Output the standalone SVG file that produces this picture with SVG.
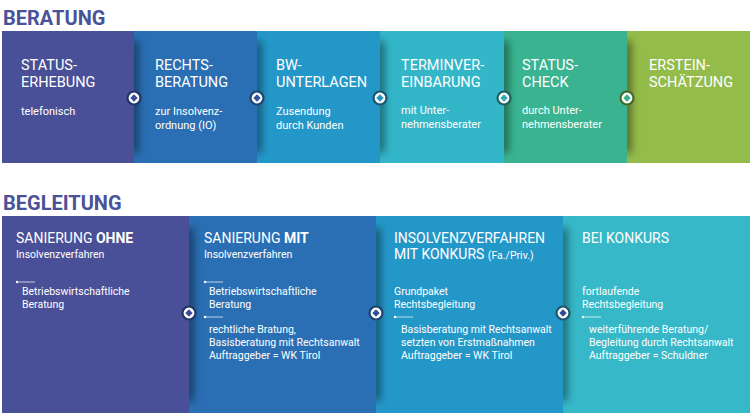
<svg xmlns="http://www.w3.org/2000/svg" width="750" height="413" viewBox="0 0 750 413">
<defs>
<filter id="sh" x="-2" y="-0.5" width="5" height="2"><feGaussianBlur stdDeviation="4"/></filter>
<style>
text{font-family:Roboto,"Liberation Sans",sans-serif;fill:#fff}
.h{font-size:20px;font-weight:700;fill:#4a5298}
.t{font-size:14.5px}
.t2{font-size:14px}
.s{font-size:11px}
.b{font-size:10.5px}
.bd{font-weight:700}
.shd{fill:#000;opacity:.5;filter:url(#sh)}
.bl{stroke:#fff;stroke-opacity:.7;stroke-width:1}
.dot{fill:#fff}
.ring{fill:#fff;stroke-width:2.2}
</style>
</defs>
<rect width="750" height="413" fill="#fff"/>
<text class="h" x="3" y="24.5">BERATUNG</text>
<text class="h" x="3" y="210">BEGLEITUNG</text>

<!-- top row, drawn right to left -->
<g id="ersteinschaetzung">
<rect x="627" y="31" width="123" height="132" fill="#94bc4a"/>
<text class="t" x="649" y="70">ERSTEIN-</text>
<text class="t" x="649" y="87">SCHÄTZUNG</text>
</g>
<g id="statuscheck">
<rect class="shd" x="623" y="41" width="8" height="112"/>
<rect x="504" y="31" width="123" height="132" fill="#3ab490"/>
<text class="t" x="522" y="70">STATUS-</text>
<text class="t" x="522" y="87">CHECK</text>
<text class="s" x="522" y="114">durch Unter-</text>
<text class="s" x="522" y="128">nehmensberater</text>
</g>
<g id="terminvereinbarung">
<rect class="shd" x="500" y="41" width="8" height="112"/>
<rect x="380" y="31" width="124" height="132" fill="#33b6c8"/>
<text class="t" x="401" y="70">TERMINVER-</text>
<text class="t" x="401" y="87">EINBARUNG</text>
<text class="s" x="401" y="114">mit Unter-</text>
<text class="s" x="401" y="128">nehmensberater</text>
</g>
<g id="bwunterlagen">
<rect class="shd" x="376" y="41" width="8" height="112"/>
<rect x="257" y="31" width="123" height="132" fill="#2497c9"/>
<text class="t" x="276" y="70">BW-</text>
<text class="t" x="276" y="87">UNTERLAGEN</text>
<text class="s" x="276" y="115">Zusendung</text>
<text class="s" x="276" y="129">durch Kunden</text>
</g>
<g id="rechtsberatung">
<rect class="shd" x="253" y="41" width="8" height="112"/>
<rect x="134" y="31" width="123" height="132" fill="#2a6fb3"/>
<text class="t" x="155" y="70">RECHTS-</text>
<text class="t" x="155" y="87">BERATUNG</text>
<text class="s" x="155" y="115">zur Insolvenz-</text>
<text class="s" x="155" y="129">ordnung (IO)</text>
</g>
<g id="statuserhebung">
<rect class="shd" x="130" y="41" width="8" height="112"/>
<rect x="2" y="31" width="132" height="132" fill="#4a5097"/>
<text class="t" x="21" y="70">STATUS-</text>
<text class="t" x="21" y="87">ERHEBUNG</text>
<text class="s" x="21" y="115">telefonisch</text>
</g>

<!-- bottom row, drawn right to left -->
<g id="beikonkurs">
<rect x="563" y="216" width="187" height="197" fill="#36b8c8"/>
<text class="t2" x="582" y="243">BEI KONKURS</text>
<text class="b" x="582" y="295">fortlaufende</text>
<text class="b" x="582" y="308">Rechtsbegleitung</text>
<line class="bl" x1="582" y1="317" x2="601" y2="317"/>
<circle class="dot" cx="583" cy="317" r="1.2"/>
<text class="b" x="589" y="333">weiterführende Beratung/</text>
<text class="b" x="589" y="346">Begleitung durch Rechtsanwalt</text>
<text class="b" x="589" y="359">Auftraggeber = Schuldner</text>
</g>
<g id="insolvenzverfahren">
<rect class="shd" x="559" y="228" width="8" height="173"/>
<rect x="376" y="216" width="187" height="197" fill="#2497c9"/>
<text class="t2" x="394" y="242.5">INSOLVENZVERFAHREN</text>
<text class="t2" x="394" y="259">MIT KONKURS <tspan font-size="10.5px">(Fa./Priv.)</tspan></text>
<text class="b" x="394" y="295">Grundpaket</text>
<text class="b" x="394" y="308">Rechtsbegleitung</text>
<line class="bl" x1="394" y1="317" x2="413" y2="317"/>
<circle class="dot" cx="395" cy="317" r="1.2"/>
<text class="b" x="401" y="333">Basisberatung mit Rechtsanwalt</text>
<text class="b" x="401" y="346">setzten von Erstmaßnahmen</text>
<text class="b" x="401" y="359">Auftraggeber = WK Tirol</text>
</g>
<g id="sanierungmit">
<rect class="shd" x="372" y="228" width="8" height="173"/>
<rect x="189" y="216" width="187" height="197" fill="#2a6fb3"/>
<text class="t2" x="204" y="243">SANIERUNG <tspan class="bd">MIT</tspan></text>
<text class="b" x="204" y="258">Insolvenzverfahren</text>
<line class="bl" x1="204" y1="282" x2="223" y2="282"/>
<circle class="dot" cx="205" cy="282" r="1.2"/>
<text class="b" x="209" y="295">Betriebswirtschaftliche</text>
<text class="b" x="209" y="308">Beratung</text>
<line class="bl" x1="204" y1="317" x2="223" y2="317"/>
<circle class="dot" cx="205" cy="317" r="1.2"/>
<text class="b" x="209" y="333">rechtliche Bratung,</text>
<text class="b" x="209" y="346">Basisberatung mit Rechtsanwalt</text>
<text class="b" x="209" y="359">Auftraggeber = WK Tirol</text>
</g>
<g id="sanierungohne">
<rect class="shd" x="185" y="228" width="8" height="173"/>
<rect x="2" y="216" width="187" height="197" fill="#4a5097"/>
<text class="t2" x="16" y="243">SANIERUNG <tspan class="bd">OHNE</tspan></text>
<text class="b" x="16" y="258">Insolvenzverfahren</text>
<line class="bl" x1="16" y1="282" x2="35" y2="282"/>
<circle class="dot" cx="17" cy="282" r="1.2"/>
<text class="b" x="22" y="295">Betriebswirtschaftliche</text>
<text class="b" x="22" y="308">Beratung</text>
</g>

<g id="connectors">
<circle class="ring" cx="134" cy="98" r="6.5" stroke="#1f3566"/>
<rect x="-2.6" y="-2.6" width="5.2" height="5.2" fill="#3d4a9a" transform="translate(134 98) rotate(45)"/>
<circle class="ring" cx="257" cy="98" r="6.5" stroke="#1c4470"/>
<rect x="-2.6" y="-2.6" width="5.2" height="5.2" fill="#2e55a0" transform="translate(257 98) rotate(45)"/>
<circle class="ring" cx="380" cy="98" r="6.5" stroke="#1a5670"/>
<rect x="-2.6" y="-2.6" width="5.2" height="5.2" fill="#2a90c0" transform="translate(380 98) rotate(45)"/>
<circle class="ring" cx="504" cy="98" r="6.5" stroke="#1b5f5e"/>
<rect x="-2.6" y="-2.6" width="5.2" height="5.2" fill="#30aab5" transform="translate(504 98) rotate(45)"/>
<circle class="ring" cx="627" cy="98" r="6.5" stroke="#3e6a2a"/>
<rect x="-2.6" y="-2.6" width="5.2" height="5.2" fill="#38b08a" transform="translate(627 98) rotate(45)"/>
<circle class="ring" cx="189" cy="313" r="6.5" stroke="#1f3566"/>
<rect x="-2.6" y="-2.6" width="5.2" height="5.2" fill="#3d4a9a" transform="translate(189 313) rotate(45)"/>
<circle class="ring" cx="376" cy="313" r="6.5" stroke="#1c4470"/>
<rect x="-2.6" y="-2.6" width="5.2" height="5.2" fill="#2e4f9e" transform="translate(376 313) rotate(45)"/>
<circle class="ring" cx="563" cy="313" r="6.5" stroke="#1a5670"/>
<rect x="-2.6" y="-2.6" width="5.2" height="5.2" fill="#2f4a98" transform="translate(563 313) rotate(45)"/>
</g>
</svg>
